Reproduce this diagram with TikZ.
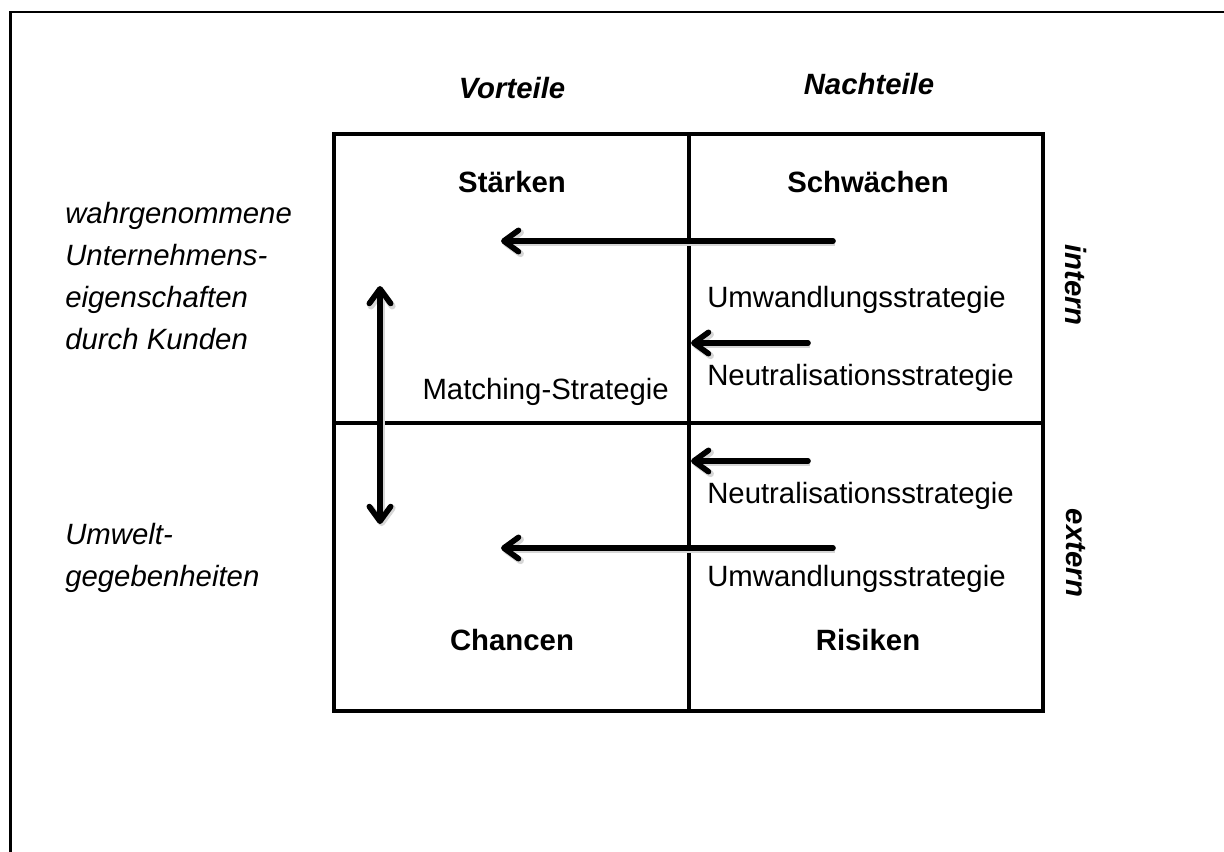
\documentclass[tikz,border=0pt]{standalone}
\usepackage{fontspec}
\setmainfont{Liberation Sans}
\usetikzlibrary{arrows.meta}
\begin{document}
\begin{tikzpicture}[x=0.75pt,y=-0.75pt,
  txt/.style={font=\fontsize{22}{26}\selectfont, inner sep=0pt},
  cellhead/.style={font=\fontsize{22}{26}\selectfont\bfseries, inner sep=0pt},
  axis/.style={font=\fontsize{22}{26}\selectfont\bfseries\itshape, inner sep=0pt},
  note/.style={font=\fontsize{22}{31.5}\selectfont\itshape, inner sep=0pt, align=left},
  frameline/.style={line width=2pt},
  gridline/.style={line width=2.5pt},
  barb/.tip={Straight Barb[length=11pt,width=16pt,round]},
  strat/.style={line width=4.2pt, line cap=round, -barb,
    preaction={draw=black!16, line width=5pt, transform canvas={shift={(1.2pt,-1.6pt)}}}},
  bistrat/.style={line width=4.2pt, barb-barb,
    preaction={draw=black!16, line width=5pt, transform canvas={shift={(1.2pt,-1.6pt)}}}},
]
\useasboundingbox (0,0) rectangle (1224,851);
\fill[white] (0,0) rectangle (1224,851);
\clip (0,0) rectangle (1224,851);

% outer frame (open to the right and bottom)
\draw[frameline] (10.5,880) -- (10.5,12) -- (1250,12);

% the 2x2 matrix
\draw[gridline] (334,134) rectangle (1043,711);
\draw[gridline] (689,134) -- (689,711);
\draw[gridline] (334,423) -- (1043,423);

% column and row headings
\node[axis] (vor) at (512,88) {Vorteile};
\node[axis] (nach) at (869,84) {Nachteile};
\node[axis, rotate=-90] (int) at (1076,285) {intern};
\node[axis, rotate=-90] (ext) at (1076,553) {extern};

\node[note, anchor=west] (wahr) at (65,276.5) {wahrgenommene\\Unternehmens-\\eigenschaften\\durch Kunden};
\node[note, anchor=west] (umw) at (65,557.5) {Umwelt-\\gegebenheiten};

% cell titles
\node[cellhead] (st) at (512,182) {Stärken};
\node[cellhead] (sw) at (868,182) {Schwächen};
\node[cellhead] (ch) at (512,640) {Chancen};
\node[cellhead] (ri) at (868,640) {Risiken};

% strategy labels
\node[txt, anchor=west] (u1) at (707,300) {Umwandlungsstrategie};
\node[txt, anchor=west] (n1) at (707,378) {Neutralisationsstrategie};
\node[txt, anchor=east] (ms) at (669,392) {Matching-Strategie};
\node[txt, anchor=west] (n2) at (707,496) {Neutralisationsstrategie};
\node[txt, anchor=west] (u2) at (707,579) {Umwandlungsstrategie};

% arrow end points
\coordinate (a1s) at (833,241);  \coordinate (a1e) at (501,241);
\coordinate (a2s) at (808,343);  \coordinate (a2e) at (691,343);
\coordinate (a3s) at (808,461);  \coordinate (a3e) at (691,461);
\coordinate (a4s) at (833,548);  \coordinate (a4e) at (501,548);
\coordinate (mt) at (380,286);   \coordinate (mb) at (380,524);

\draw[strat] (a1s) -- (a1e);
\draw[strat] (a2s) -- (a2e);
\draw[strat] (a3s) -- (a3e);
\draw[strat] (a4s) -- (a4e);
\draw[bistrat] (mt) -- (mb);
\end{tikzpicture}
\end{document}
